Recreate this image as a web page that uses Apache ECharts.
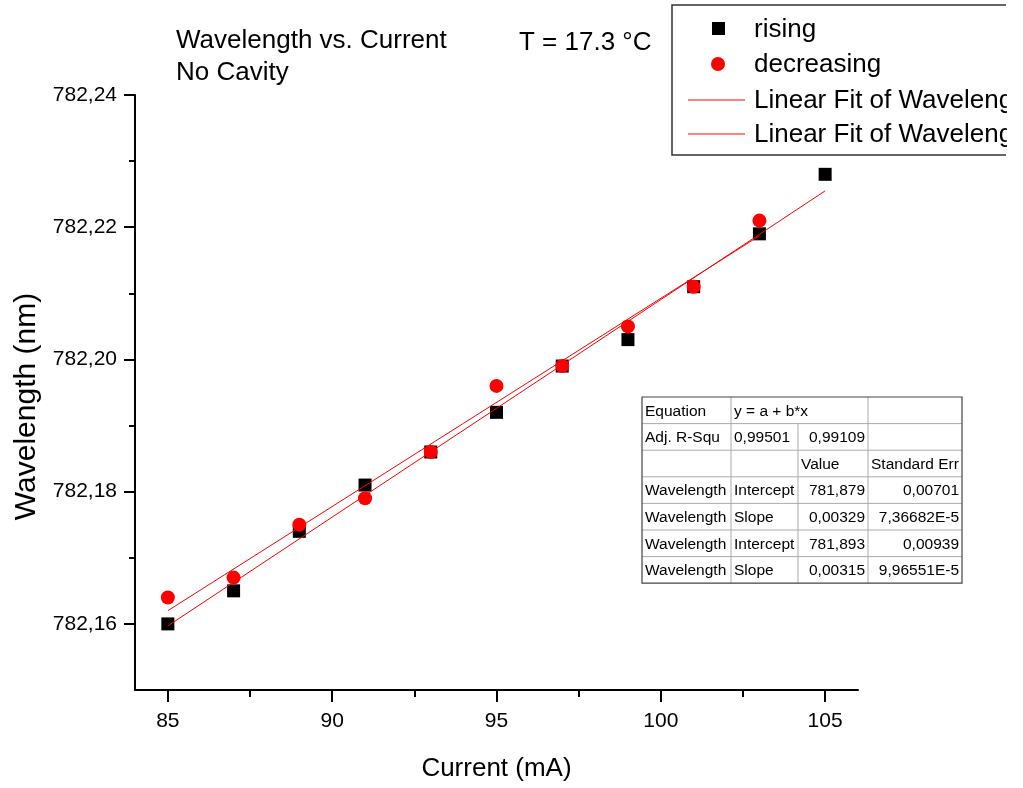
<!DOCTYPE html>
<html>
<head>
<meta charset="utf-8">
<script src="https://cdn.jsdelivr.net/npm/echarts@6/dist/echarts.min.js"></script>
<style>html,body{margin:0;padding:0;background:#fff;}#c{width:1023px;height:788px;}</style>
</head>
<body>
<div id="c"></div>
<script>
// ---- data ----
const risingX = [85, 87, 89, 91, 93, 95, 97, 99, 101, 103, 105];
const risingY = [782.160, 782.165, 782.174, 782.181, 782.186, 782.192, 782.199, 782.203, 782.211, 782.219, 782.228];
const decreasingX = [85, 87, 89, 91, 93, 95, 97, 99, 101, 103];
const decreasingY = [782.164, 782.167, 782.175, 782.179, 782.186, 782.196, 782.199, 782.205, 782.211, 782.221];
const fitRisingX = [85, 105];
const fitRisingY = [782.1597, 782.2255];
const fitDecreasingX = [85, 103];
const fitDecreasingY = [782.1620, 782.2187];
const xTicks = [85, 90, 95, 100, 105];
const xMinorTicks = [87.5, 92.5, 97.5, 102.5];
const yTicks = [782.16, 782.18, 782.20, 782.22, 782.24];
const yMinorTicks = [782.17, 782.19, 782.21, 782.23];
const legendNames = ['rising', 'decreasing', 'Linear Fit of Wavelength_rising', 'Linear Fit of Wavelength_decreasing'];
const tableRows = [
  ['Equation', 'y = a + b*x', '', ''],
  ['Adj. R-Squ', '0,99501', '0,99109', ''],
  ['', '', 'Value', 'Standard Err'],
  ['Wavelength', 'Intercept', '781,879', '0,00701'],
  ['Wavelength', 'Slope', '0,00329', '7,36682E-5'],
  ['Wavelength', 'Intercept', '781,893', '0,00939'],
  ['Wavelength', 'Slope', '0,00315', '9,96551E-5']
];

const zip = (a, b) => a.map((v, i) => [v, b[i]]);
const FAM = 'Liberation Sans';

// table graphic
const tX = [642, 731, 798, 868, 962];
const tY0 = 397, rowH = 26.6;
const tableEls = [];
tableEls.push({type: 'rect', shape: {x: tX[0], y: tY0, width: tX[4] - tX[0], height: rowH * 7}, style: {fill: '#fff', stroke: null}});
for (let r = 1; r < 7; r++) {
  tableEls.push({type: 'line', shape: {x1: tX[0], y1: tY0 + r * rowH, x2: tX[4], y2: tY0 + r * rowH}, style: {stroke: '#aaa', lineWidth: 1}});
}
for (let c = 1; c < 4; c++) {
  const yStart = (c === 2) ? tY0 + rowH : tY0;
  tableEls.push({type: 'line', shape: {x1: tX[c], y1: yStart, x2: tX[c], y2: tY0 + 7 * rowH}, style: {stroke: '#aaa', lineWidth: 1}});
}
const isNum = s => /^[0-9]/.test(s);
tableRows.forEach((row, r) => {
  row.forEach((txt, c) => {
    if (!txt) return;
    const right = isNum(txt) && !(r === 1 && c === 1);
    const st = {text: txt, fontFamily: FAM, fontSize: 15.5, fill: '#000', align: right ? 'right' : 'left', verticalAlign: 'middle'};
    tableEls.push({
      type: 'text',
      x: right ? tX[c + 1] - 3 : tX[c] + 3,
      y: tY0 + r * rowH + rowH / 2 + 1,
      style: st
    });
  });
});
tableEls.push({type: 'rect', shape: {x: tX[0], y: tY0, width: tX[4] - tX[0], height: rowH * 7}, style: {fill: null, stroke: '#444', lineWidth: 1.2}});

// legend graphic (box clipped at its right side, as in the reference)
const lgL = 672, lgT = 5, lgR = 1006, lgB = 155;
const legendEls = [
  {type: 'rect', shape: {x: lgL, y: lgT, width: lgR - lgL, height: lgB - lgT}, style: {fill: '#fff', stroke: null}},
  {type: 'polyline', shape: {points: [[lgR, lgT], [lgL, lgT], [lgL, lgB], [lgR, lgB]]}, style: {fill: null, stroke: '#333', lineWidth: 1.5}},
  {type: 'rect', shape: {x: 712, y: 22, width: 13, height: 13}, style: {fill: '#000'}},
  {type: 'circle', shape: {cx: 718, cy: 64, r: 7}, style: {fill: '#ff0000'}},
  {type: 'line', shape: {x1: 688, y1: 100, x2: 745, y2: 100}, style: {stroke: '#ff0000', lineWidth: 1}},
  {type: 'line', shape: {x1: 688, y1: 134, x2: 745, y2: 134}, style: {stroke: '#ff0000', lineWidth: 1}}
];
[29, 64, 100, 134].forEach((cy, i) => {
  legendEls.push({type: 'text', x: 754, y: cy + 1, style: {text: legendNames[i], fontFamily: FAM, fontSize: 26, fill: '#000', verticalAlign: 'middle'}});
});
// mask beyond the clipped edge
legendEls.push({type: 'rect', shape: {x: lgR + 1, y: 0, width: 40, height: lgB + 5}, style: {fill: '#fff', stroke: null}});

const labFmt = v => v.toFixed(2).replace('.', ',');
const chart = echarts.init(document.getElementById('c'), null, {renderer: 'canvas'});
const yMin = 782.15, yMax = 782.24, xMin = 84, xMax = 106;
chart.setOption({
  backgroundColor: '#fff',
  animation: false,
  grid: {left: 135, right: 165, top: 95, bottom: 98, containLabel: false},
  xAxis: [
    {
      type: 'value', min: xMin, max: xMax, position: 'bottom',
      name: 'Current (mA)', nameLocation: 'middle', nameGap: 66,
      nameTextStyle: {fontFamily: FAM, fontSize: 26, color: '#000'},
      axisLine: {show: true, onZero: false, lineStyle: {color: '#000', width: 2}},
      axisTick: {show: true, length: 12, customValues: xTicks, lineStyle: {color: '#000', width: 2}},
      axisLabel: {customValues: xTicks, fontFamily: FAM, fontSize: 21, color: '#000', margin: 21},
      splitLine: {show: false}
    },
    {
      type: 'value', min: xMin, max: xMax, position: 'bottom', offset: 0,
      axisLine: {show: false, onZero: false},
      axisTick: {show: true, length: 7, customValues: xMinorTicks, lineStyle: {color: '#000', width: 2}},
      axisLabel: {show: false},
      splitLine: {show: false}
    }
  ],
  yAxis: [
    {
      type: 'value', min: yMin, max: yMax, position: 'left',
      name: 'Wavelength (nm)', nameLocation: 'middle', nameGap: 86,
      nameTextStyle: {fontFamily: FAM, fontSize: 30, color: '#000', padding: [0, 28, 0, 0]},
      axisLine: {show: true, onZero: false, lineStyle: {color: '#000', width: 2}},
      axisTick: {show: true, length: 11, customValues: yTicks, lineStyle: {color: '#000', width: 2}},
      axisLabel: {customValues: yTicks, formatter: labFmt, fontFamily: FAM, fontSize: 21, color: '#000', margin: 18},
      splitLine: {show: false}
    },
    {
      type: 'value', min: yMin, max: yMax, position: 'left', offset: 0,
      axisLine: {show: false, onZero: false},
      axisTick: {show: true, length: 6, customValues: yMinorTicks, lineStyle: {color: '#000', width: 2}},
      axisLabel: {show: false},
      splitLine: {show: false}
    }
  ],
  series: [
    {name: legendNames[0], type: 'scatter', data: zip(risingX, risingY), symbol: 'rect', symbolSize: 13,
     itemStyle: {color: '#000', opacity: 1}, z: 2},
    {name: legendNames[1], type: 'scatter', data: zip(decreasingX, decreasingY), symbol: 'circle', symbolSize: 14,
     itemStyle: {color: '#ff0000', opacity: 1}, z: 3},
    {name: legendNames[2], type: 'line', data: zip(fitRisingX, fitRisingY), showSymbol: false, symbol: 'none',
     lineStyle: {color: '#ff0000', width: 1}, z: 4},
    {name: legendNames[3], type: 'line', data: zip(fitDecreasingX, fitDecreasingY), showSymbol: false, symbol: 'none',
     lineStyle: {color: '#ff0000', width: 1}, z: 4}
  ],
  graphic: [
    {type: 'text', left: 176, top: 28, style: {text: 'Wavelength vs. Current', fontFamily: FAM, fontSize: 26, fill: '#000'}},
    {type: 'text', left: 176, top: 60, style: {text: 'No Cavity', fontFamily: FAM, fontSize: 26, fill: '#000'}},
    {type: 'text', left: 519, top: 30, style: {text: 'T = 17.3 °C', fontFamily: FAM, fontSize: 26, fill: '#000'}},
    {type: 'group', children: legendEls, z: 100},
    {type: 'group', children: tableEls, z: 100}
  ]
});
</script>
</body>
</html>
